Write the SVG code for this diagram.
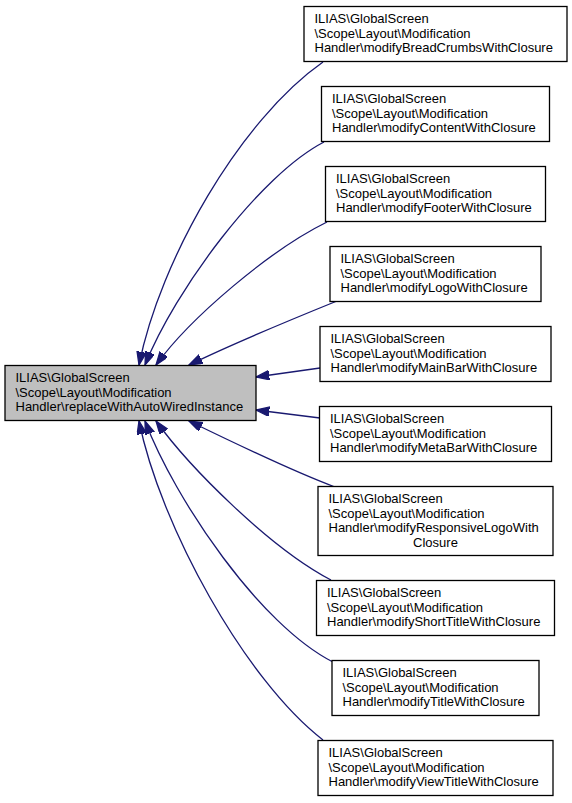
<svg xmlns="http://www.w3.org/2000/svg" width="572" height="803" viewBox="0 0 572 803">
<style>
text{font-family:"Liberation Sans",Arial,Helvetica,sans-serif;font-size:13px;fill:#000}
.box{fill:#fff;stroke:#000;stroke-width:1.3}
.main{fill:#bfbfbf;stroke:#000;stroke-width:1.3}
.edge{fill:none;stroke:#191970;stroke-width:1.3;marker-end:url(#arr)}
</style>
<defs>
<marker id="arr" markerUnits="userSpaceOnUse" markerWidth="16" markerHeight="12" refX="13.3" refY="4.7" orient="auto">
<path d="M0,0 L13.3,4.7 L0,9.4 Z" fill="#191970" stroke="#191970" stroke-width="1.3"/>
</marker>
</defs>
<rect width="572" height="803" fill="#fff"/>
<g id="connectors">
<path class="edge" d="M323,62 C240,120 160,260 139,365"/>
<path class="edge" d="M324,142 C260,175 175,290 145,365"/>
<path class="edge" d="M327,222 C270,250 190,318 156,365"/>
<path class="edge" d="M337,301 C300,316 230,345 189,365"/>
<path class="edge" d="M320,368 L256,377"/>
<path class="edge" d="M320,418 L256,410"/>
<path class="edge" d="M335,487 C300,474 230,441 189,421"/>
<path class="edge" d="M331,580 C270,548 190,468 156,421"/>
<path class="edge" d="M333,662 C260,625 175,500 145,421"/>
<path class="edge" d="M323,740 C245,680 160,525 139,421"/>
</g>
<g id="replaceWithAutoWiredInstance">
<rect class="main" x="5" y="365.5" width="251" height="55"/>
<text x="15.5" y="382">ILIAS\GlobalScreen</text>
<text x="15.5" y="396.7">\Scope\Layout\Modification</text>
<text x="15.5" y="411.3">Handler\replaceWithAutoWiredInstance</text>
</g>
<g id="modifyBreadCrumbsWithClosure">
<rect class="box" x="304" y="6.5" width="263" height="55"/>
<text x="314.5" y="23">ILIAS\GlobalScreen</text>
<text x="314.5" y="37.7">\Scope\Layout\Modification</text>
<text x="314.5" y="52.3">Handler\modifyBreadCrumbsWithClosure</text>
</g>
<g id="modifyContentWithClosure">
<rect class="box" x="321.5" y="86.5" width="228" height="55"/>
<text x="332" y="103">ILIAS\GlobalScreen</text>
<text x="332" y="117.7">\Scope\Layout\Modification</text>
<text x="332" y="132.3">Handler\modifyContentWithClosure</text>
</g>
<g id="modifyFooterWithClosure">
<rect class="box" x="325.5" y="166.5" width="220" height="55"/>
<text x="336" y="183">ILIAS\GlobalScreen</text>
<text x="336" y="197.7">\Scope\Layout\Modification</text>
<text x="336" y="212.3">Handler\modifyFooterWithClosure</text>
</g>
<g id="modifyLogoWithClosure">
<rect class="box" x="330" y="246.5" width="211" height="55"/>
<text x="340.5" y="263">ILIAS\GlobalScreen</text>
<text x="340.5" y="277.7">\Scope\Layout\Modification</text>
<text x="340.5" y="292.3">Handler\modifyLogoWithClosure</text>
</g>
<g id="modifyMainBarWithClosure">
<rect class="box" x="320" y="326.5" width="231" height="55"/>
<text x="330.5" y="343">ILIAS\GlobalScreen</text>
<text x="330.5" y="357.7">\Scope\Layout\Modification</text>
<text x="330.5" y="372.3">Handler\modifyMainBarWithClosure</text>
</g>
<g id="modifyMetaBarWithClosure">
<rect class="box" x="319.5" y="406.5" width="232" height="55"/>
<text x="330" y="423">ILIAS\GlobalScreen</text>
<text x="330" y="437.7">\Scope\Layout\Modification</text>
<text x="330" y="452.3">Handler\modifyMetaBarWithClosure</text>
</g>
<g id="modifyResponsiveLogoWithClosure">
<rect class="box" x="318" y="486.5" width="235" height="69"/>
<text x="328.5" y="503">ILIAS\GlobalScreen</text>
<text x="328.5" y="517.7">\Scope\Layout\Modification</text>
<text x="328.5" y="532.3">Handler\modifyResponsiveLogoWith</text>
<text x="435.5" y="547" text-anchor="middle">Closure</text>
</g>
<g id="modifyShortTitleWithClosure">
<rect class="box" x="316.5" y="580.5" width="238" height="55"/>
<text x="327" y="597">ILIAS\GlobalScreen</text>
<text x="327" y="611.7">\Scope\Layout\Modification</text>
<text x="327" y="626.3">Handler\modifyShortTitleWithClosure</text>
</g>
<g id="modifyTitleWithClosure">
<rect class="box" x="332" y="660.5" width="207" height="55"/>
<text x="342.5" y="677">ILIAS\GlobalScreen</text>
<text x="342.5" y="691.7">\Scope\Layout\Modification</text>
<text x="342.5" y="706.3">Handler\modifyTitleWithClosure</text>
</g>
<g id="modifyViewTitleWithClosure">
<rect class="box" x="318" y="740.5" width="235" height="55"/>
<text x="328.5" y="757">ILIAS\GlobalScreen</text>
<text x="328.5" y="771.7">\Scope\Layout\Modification</text>
<text x="328.5" y="786.3">Handler\modifyViewTitleWithClosure</text>
</g>
</svg>
